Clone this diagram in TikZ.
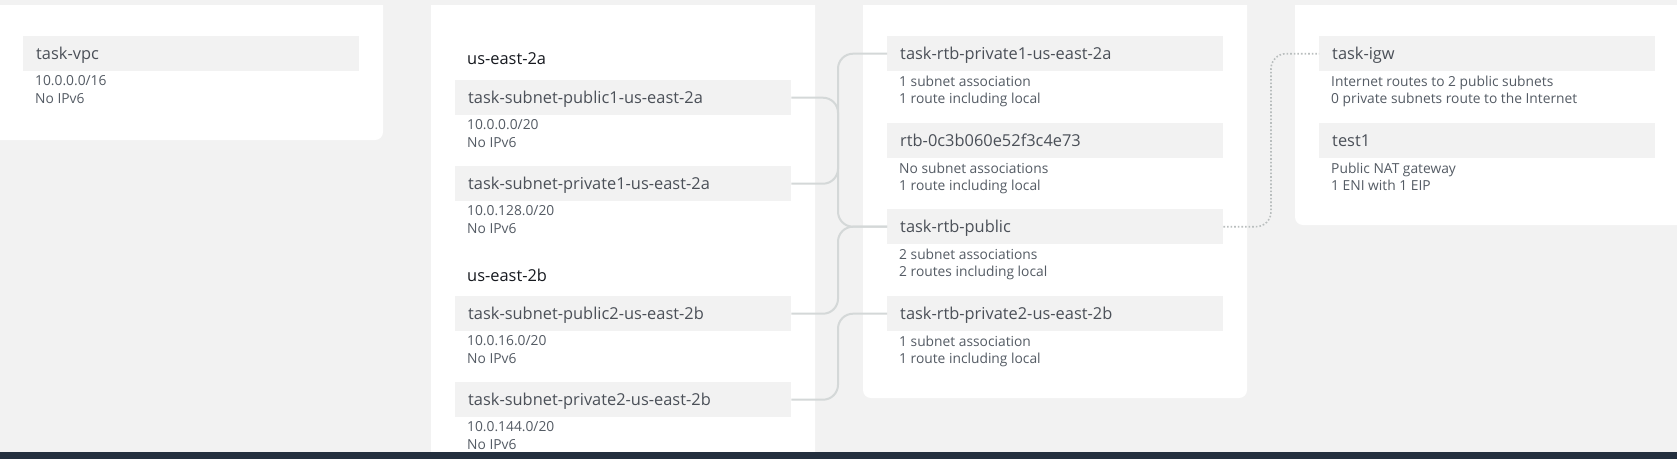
\documentclass[tikz,border=0pt]{standalone}
\usepackage{fontspec}
\setmainfont{Open Sans}
\usetikzlibrary{positioning}
\definecolor{pagegray}{RGB}{242,242,242}
\definecolor{hdrgray}{RGB}{242,242,242}
\definecolor{hdrtext}{RGB}{75,80,88}
\definecolor{subtext}{RGB}{84,91,100}
\definecolor{zonetext}{RGB}{22,25,31}
\definecolor{linkgray}{RGB}{212,216,216}
\definecolor{dotgray}{RGB}{185,190,190}
\definecolor{bandnavy}{RGB}{35,47,62}

\begin{document}
\begin{tikzpicture}[x=1pt,y=-1pt,
        panel/.style={fill=white,rounded corners=8pt},
        hdr/.style={fill=hdrgray,anchor=north west,text width=310pt,align=left,
          minimum height=35pt,inner xsep=13pt,inner ysep=0pt,text depth=0pt,
          text=hdrtext,font=\fontsize{16.4}{18}\selectfont},
        sub/.style={anchor=north west,inner sep=0pt,align=left,text=subtext,
          font=\fontsize{13.8}{17.5}\selectfont},
        zone/.style={anchor=west,inner sep=0pt,text=zonetext,
          font=\fontsize{16.4}{18}\selectfont},
        link/.style={draw=linkgray,line width=2pt,rounded corners=15pt},
        wire/.style={draw=dotgray,line width=1.6pt,dotted,rounded corners=15pt}]
        \useasboundingbox (0,0) rectangle (1677,459);
        \clip (0,0) rectangle (1677,459);
        \fill[pagegray] (0,0) rectangle (1677,459);
        % panels
        \fill[panel] (-20,-20) rectangle (383,140);
        \fill[panel] (431,-20) rectangle (815,480);
        \fill[panel] (863,-20) rectangle (1247,398);
        \fill[panel] (1295,-20) rectangle (1700,225);
        \fill[pagegray] (0,0) rectangle (1677,5);
        \fill[bandnavy] (0,452) rectangle (1677,459);
        % vpc
        \node[hdr] (vpc) at (23,36) {task-vpc};
        \node[sub,below right=4pt and 12pt of vpc.south west] (vpcinfo) {10.0.0.0/16\\No IPv6};
        % subnets
        \node[zone] (za) at (467,59) {us-east-2a};
        \node[hdr] (pub1) at (455,80) {task-subnet-public1-us-east-2a};
        \node[sub,below right=4pt and 12pt of pub1.south west] (pub1info) {10.0.0.0/20\\No IPv6};
        \node[hdr] (priv1) at (455,166) {task-subnet-private1-us-east-2a};
        \node[sub,below right=4pt and 12pt of priv1.south west] (priv1info) {10.0.128.0/20\\No IPv6};
        \node[zone] (zb) at (467,275) {us-east-2b};
        \node[hdr] (pub2) at (455,296) {task-subnet-public2-us-east-2b};
        \node[sub,below right=4pt and 12pt of pub2.south west] (pub2info) {10.0.16.0/20\\No IPv6};
        \node[hdr] (priv2) at (455,382) {task-subnet-private2-us-east-2b};
        \node[sub,below right=4pt and 12pt of priv2.south west] (priv2info) {10.0.144.0/20\\No IPv6};
        % route tables
        \node[hdr] (rtbpriv1) at (887,36) {task-rtb-private1-us-east-2a};
        \node[sub,below right=4pt and 12pt of rtbpriv1.south west] (rtbpriv1info) {1 subnet association\\1 route including local};
        \node[hdr] (rtbmain) at (887,123) {rtb-0c3b060e52f3c4e73};
        \node[sub,below right=4pt and 12pt of rtbmain.south west] (rtbmaininfo) {No subnet associations\\1 route including local};
        \node[hdr] (rtbpub) at (887,209) {task-rtb-public};
        \node[sub,below right=4pt and 12pt of rtbpub.south west] (rtbpubinfo) {2 subnet associations\\2 routes including local};
        \node[hdr] (rtbpriv2) at (887,296) {task-rtb-private2-us-east-2b};
        \node[sub,below right=4pt and 12pt of rtbpriv2.south west] (rtbpriv2info) {1 subnet association\\1 route including local};
        % gateways
        \node[hdr] (igw) at (1319,36) {task-igw};
        \node[sub,below right=4pt and 12pt of igw.south west] (igwinfo) {Internet routes to 2 public subnets\\0 private subnets route to the Internet};
        \node[hdr] (nat) at (1319,123) {test1};
        \node[sub,below right=4pt and 12pt of nat.south west] (natinfo) {Public NAT gateway\\1 ENI with 1 EIP};
        % connectors
        \coordinate (bus) at (838,0);
        \coordinate (netbus) at (1271,0);
        \draw[link] (pub1.east) -| (bus |- rtbpub.west) -- (rtbpub.west);
        \draw[link] (priv1.east) -| (bus |- rtbpriv1.west) -- (rtbpriv1.west);
        \draw[link] (pub2.east) -| (bus |- rtbpub.west) -- (rtbpub.west);
        \draw[link] (priv2.east) -| (bus |- rtbpriv2.west) -- (rtbpriv2.west);
        \draw[wire] (rtbpub.east) -| (netbus |- igw.west) -- (igw.west);
\end{tikzpicture}
\end{document}
